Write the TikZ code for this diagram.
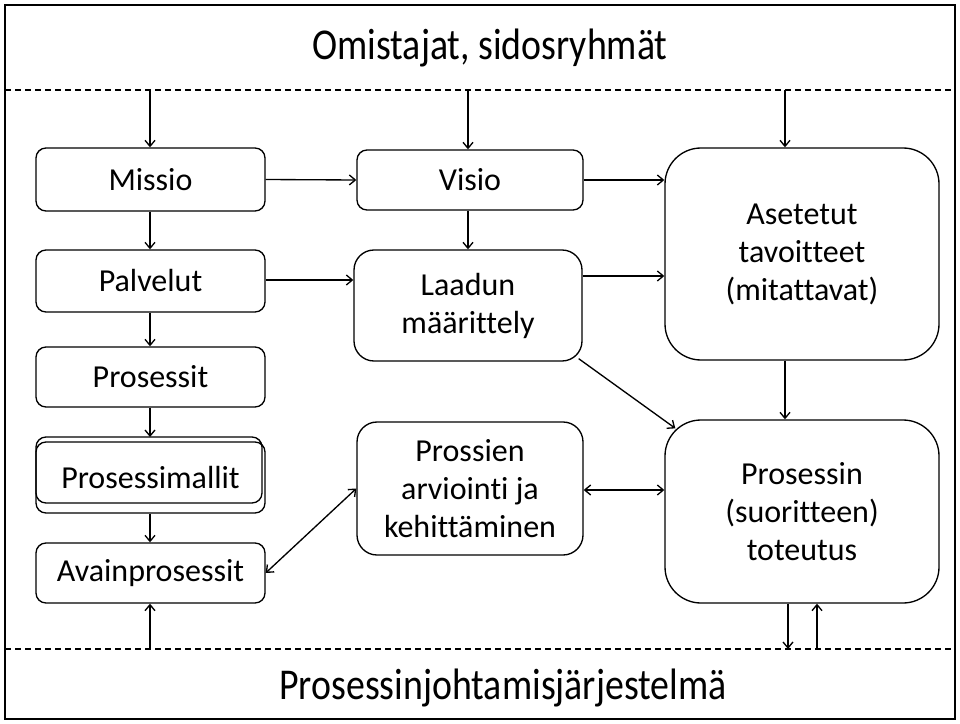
\documentclass[tikz,border=0pt]{standalone}
\usepackage{fontspec}
\setmainfont{Carlito}[Ligatures=NoCommon]
\usetikzlibrary{arrows.meta,calc}
\begin{document}
\begin{tikzpicture}[x=0.75pt,y=-0.75pt,
  box/.style={draw, line width=1pt, inner sep=0pt, align=center,
    font=\fontsize{24}{28.5}\selectfont},
  smallbox/.style={box, rounded corners=10pt*0.75, minimum width=229*0.75pt, minimum height=60*0.75pt},
  midbox/.style={box, rounded corners=20pt*0.75, minimum width=227*0.75pt},
  bigbox/.style={box, rounded corners=36pt*0.75, minimum width=274*0.75pt},
  arr/.style={line width=1pt, -{Straight Barb[length=4.5pt,width=7.5pt]}},
  dblarr/.style={line width=1pt, {Straight Barb[length=4.5pt,width=7.5pt]}-{Straight Barb[length=4.5pt,width=7.5pt]}},
  sepline/.style={line width=0.9pt, dash pattern=on 4.5pt off 3pt},
  bandtext/.style={inner sep=0pt, font=\fontsize{33}{40}\selectfont}]
\useasboundingbox (0,0) rectangle (960,724);
\fill[white] (0,0) rectangle (960,724);
% outer frame and the two dashed band separators
\draw[line width=1.3pt] (5,5) rectangle (955,719);
\draw[sepline] (5,90) -- (955,90);
\draw[sepline] (5,649) -- (955,649);
\node[bandtext] (owners) at (490,48) {\scalebox{0.86}[1]{Omistajat, sidosryhmät}};
\node[bandtext] (system) at (503,688) {\scalebox{0.86}[1]{Prosessinjohtamisjärjestelmä}};

% left column
\node[smallbox, minimum height=63*0.75pt] (missio) at (150.5,179.5) {Missio};
\node[smallbox, minimum height=62*0.75pt] (palvelut) at (150.5,281) {Palvelut};
\node[smallbox] (prosessit) at (150.5,377) {Prosessit};
\draw[line width=1pt, rounded corners=10pt*0.75] (36,437) rectangle (262,503);
\node[smallbox, minimum height=71*0.75pt] (mallit) at (150.5,477.5) {Prosessimallit};
\node[smallbox] (avain) at (150.5,573) {Avainprosessit};

% middle column
\node[box, rounded corners=10pt*0.75, minimum width=226*0.75pt, minimum height=60*0.75pt] (visio) at (470,180) {Visio};
\node[midbox, minimum width=228*0.75pt, minimum height=111*0.75pt] (laadun) at (468,305.5) {Laadun\\määrittely};
\node[midbox, minimum width=226*0.75pt, minimum height=133*0.75pt] (prossien) at (470,488.5) {Prossien\\arviointi ja\\kehittäminen};

% right column
\node[bigbox, minimum height=212*0.75pt] (asetetut) at (802,254) {Asetetut\\tavoitteet\\(mitattavat)};
\node[bigbox, minimum height=183*0.75pt] (toteutus) at (802,511.5) {Prosessin\\(suoritteen)\\toteutus};

% points where connectors meet the dashed separators
\coordinate (top1) at (150,90);
\coordinate (top2) at (468,90);
\coordinate (top3) at (785,90);
\coordinate (bot1) at (150,649);
\coordinate (bot2) at (788,649);
\coordinate (bot3) at (817,649);

% connectors
\draw[arr] (top1) -- (top1 |- missio.north);
\draw[arr] (top2) -- (top2 |- visio.north);
\draw[arr] (top3) -- (top3 |- asetetut.north);
\draw[arr] (missio.east) -- (visio.west);
\draw[arr] (visio.east) -- (visio.east -| asetetut.west);
\draw[arr] (missio.south -| top1) -- (palvelut.north -| top1);
\draw[arr] (palvelut.south -| top1) -- (prosessit.north -| top1);
\draw[arr] (prosessit.south -| top1) -- (36,437 -| top1);
\draw[arr] (mallit.south -| top1) -- (avain.north -| top1);
\draw[arr] (bot1) -- (bot1 |- avain.south);
\draw[arr] (visio.south -| top2) -- (laadun.north -| top2);
\draw[arr] ($(palvelut.east)+(0,-1)$) -- ($(palvelut.east -| laadun.west)+(0,-1)$);
\draw[arr] ($(laadun.east)+(0,-29.5)$) -- ($(laadun.east -| asetetut.west)+(0,-29.5)$);
\draw[arr] ($(laadun.south east)+(-4,-3)$) -- ($(toteutus.north west)+(11,9)$);
\draw[arr] (asetetut.south -| top3) -- (toteutus.north -| top3);
\draw[dblarr] (avain.east) -- (prossien.west);
\draw[dblarr] ($(prossien.east)+(0,1.5)$) -- ($(prossien.east -| toteutus.west)+(0,1.5)$);
\draw[arr] (bot2 |- toteutus.south) -- (bot2);
\draw[arr] (bot3) -- (bot3 |- toteutus.south);
\end{tikzpicture}
\end{document}
